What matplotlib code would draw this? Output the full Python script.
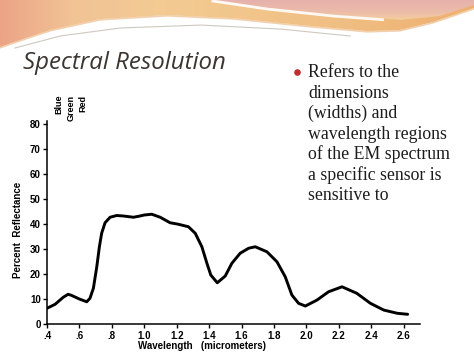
import numpy as np
import matplotlib
matplotlib.use("Agg")
from matplotlib import pyplot as plt
from matplotlib.path import Path
from matplotlib.patches import PathPatch

# reflectance curve (wavelength in micrometers, percent)
wavelength = [0.40, 0.45, 0.50, 0.53, 0.55, 0.60, 0.645, 0.665, 0.686, 0.707,
              0.723, 0.737, 0.758, 0.789, 0.83, 0.871, 0.933, 0.974, 1.00, 1.046,
              1.098, 1.159, 1.21, 1.272, 1.314, 1.355, 1.386, 1.41, 1.45, 1.499,
              1.54, 1.591, 1.643, 1.684, 1.756, 1.818, 1.869, 1.91, 1.951, 1.993,
              2.065, 2.136, 2.219, 2.31, 2.394, 2.476, 2.56, 2.624]
reflectance = [6.4, 8.0, 10.8, 12.0, 11.6, 10.1, 9.0, 10.4, 14.4, 23.0,
               31.0, 36.4, 40.6, 42.8, 43.5, 43.3, 42.8, 43.3, 43.7, 44.0,
               42.8, 40.6, 40.0, 39.0, 36.4, 31.0, 24.4, 19.7, 16.6, 19.3,
               24.4, 28.4, 30.4, 31.0, 29.0, 25.0, 19.0, 11.7, 8.4, 7.3,
               9.7, 13.0, 15.0, 12.4, 8.4, 5.7, 4.4, 4.0]

xtick_vals = [0.4, 0.6, 0.8, 1.0, 1.2, 1.4, 1.6, 1.8, 2.0, 2.2, 2.4, 2.6]
xtick_labels = [".4", ".6", ".8", "1.0", "1.2", "1.4", "1.6", "1.8", "2.0",
                "2.2", "2.4", "2.6"]
ytick_vals = [0, 10, 20, 30, 40, 50, 60, 70, 80]
band_labels = ["Blue", "Green", "Red"]
bullet_lines = ["Refers to the", "dimensions", "(widths) and",
                "wavelength regions", "of the EM spectrum",
                "a specific sensor is", "sensitive to"]

W, H = 474, 355
fig = plt.figure(figsize=(W / 100, H / 100), dpi=100)
fig.patch.set_facecolor("white")

# background / decoration layer in pixel coordinates
bg = fig.add_axes([0, 0, 1, 1], zorder=0)
bg.set_xlim(0, W)
bg.set_ylim(H, 0)
bg.axis("off")


def smooth_path(pts):
    xs = np.array([p[0] for p in pts], float)
    ys = np.array([p[1] for p in pts], float)
    t = np.linspace(0, 1, len(xs))
    tt = np.linspace(0, 1, 200)
    return np.interp(tt, t, xs), np.interp(tt, t, ys)


def grad_fill(ax, poly, stops, vertical=False):
    # stops: list of (position 0..1, colour)
    patch = PathPatch(Path(poly), facecolor="none", edgecolor="none")
    ax.add_patch(patch)
    n = 256
    f = np.linspace(0, 1, n)
    pos = [s[0] for s in stops]
    cols = np.array([matplotlib.colors.to_rgb(s[1]) for s in stops])
    row = np.stack([np.interp(f, pos, cols[:, k]) for k in range(3)], axis=-1)
    if vertical:
        img = np.repeat(row[:, None, :], 2, axis=1)
    else:
        img = np.repeat(row[None, :, :], 2, axis=0)
    xmin, ymin = np.min(poly, axis=0)
    xmax, ymax = np.max(poly, axis=0)
    im = ax.imshow(img, extent=(xmin, xmax, ymax, ymin), aspect="auto",
                   interpolation="bilinear", zorder=1)
    im.set_clip_path(patch)


# orange swoosh band
ox, oy = smooth_path([(0, 47), (20, 40), (50, 30), (100, 19), (167, 15),
                      (233, 18), (300, 25), (367, 31), (400, 30), (433, 22),
                      (474, 8)])
orange = np.column_stack([np.r_[0, ox, W], np.r_[0, oy, 0]])
grad_fill(bg, orange, [(0, "#eca486"), (0.15, "#f1c396"), (0.35, "#f3cb92"),
                       (0.7, "#f0bf84"), (1, "#eeb070")])
bg.plot(ox, oy + 0.8, color="#e6a35c", lw=1.2, alpha=0.5, zorder=2)

# pink area top right
px_, py_ = smooth_path([(213, 0), (267, 8), (333, 15), (400, 20), (440, 16),
                        (474, 5)])
pink = np.column_stack([np.r_[px_, W, 213], np.r_[py_, 0, 0]])
grad_fill(bg, pink, [(0, "#e6b1ad"), (0.6, "#ecbca8"), (1, "#f3cf9c")],
          vertical=True)
bg.plot(px_[:110], py_[:110] + 1.0, color="white", lw=2.0, alpha=0.9, zorder=3)

# thin grey accent line under the wave
gx, gy = smooth_path([(15, 48), (60, 36), (120, 28), (200, 25), (280, 29),
                      (350, 36)])
bg.plot(gx, gy, color="#cfc8c0", lw=0.8, zorder=2)

# title
fig.text(23 / W, 1 - 69 / H, "Spectral Resolution", fontsize=17.3,
         style="italic", family="Open Sans", color="#3b3532", va="baseline",
         ha="left")

# bullet text
bg.scatter([297], [72], s=14, color="#c42b2e", zorder=4)
for i, line in enumerate(bullet_lines):
    fig.text(308 / W, 1 - (77.3 + 20.45 * i) / H, line, fontsize=12.8,
             family="Liberation Serif", color="#1c1c1c", va="baseline",
             ha="left")

# chart
ax = fig.add_axes([47 / W, (H - 324.3) / H, 373 / W, 203.6 / H], zorder=2)
ax.patch.set_alpha(0)
ax.plot(wavelength, reflectance, color="black", lw=2.1, solid_capstyle="round")
ax.set_xlim(0.4, 2.70)
ax.set_ylim(0, 81.4)
for s in ["top", "right"]:
    ax.spines[s].set_visible(False)
for s in ["left", "bottom"]:
    ax.spines[s].set_linewidth(1.1)
ax.set_xticks(xtick_vals)
ax.set_xticklabels(xtick_labels)
ax.set_yticks(ytick_vals)
tick_font = dict(family="Liberation Sans", weight="bold", size=7)
for lab in ax.get_xticklabels() + ax.get_yticklabels():
    lab.set_fontproperties(matplotlib.font_manager.FontProperties(**tick_font))
ax.tick_params(axis="both", direction="out", length=3, width=1, pad=1.5,
               colors="black")

fig.text(202 / W, 1 - 345.7 / H, "Wavelength   (micrometers)",
         ha="center", va="center", **tick_font)
fig.text(18.5 / W, 1 - 230 / H, "Percent  Reflectance", rotation=90,
         ha="center", va="center", **tick_font)

for xc, lab in zip([58.5, 71, 83], band_labels):
    fig.text(xc / W, 1 - 95 / H, lab, rotation=90, ha="center", va="top",
             family="Liberation Sans", weight="bold", size=6.5)

fig.savefig("out.png", dpi=100, facecolor="white")
